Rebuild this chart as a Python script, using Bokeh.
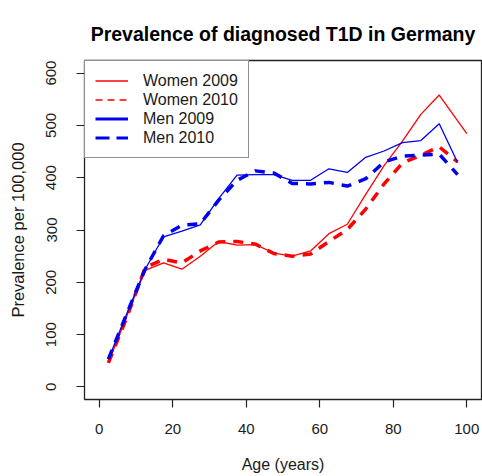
import numpy as np
from bokeh.plotting import figure
from bokeh.models import Range1d, FixedTicker, Legend, LegendItem
from bokeh.embed import file_html
from bokeh.resources import INLINE

# Age-group midpoints (years); the oldest women's 2009 group sits at 100
age = [2.5, 7.5, 12.5, 17.5, 22.5, 27.5, 32.5, 37.5, 42.5, 47.5,
       52.5, 57.5, 62.5, 67.5, 72.5, 77.5, 82.5, 87.5, 92.5, 97.5]
age_women_2009 = [2.5, 7.5, 12.5, 17.5, 22.5, 27.5, 32.5, 37.5, 42.5, 47.5,
                  52.5, 57.5, 62.5, 67.5, 72.5, 77.5, 82.5, 87.5, 92.5, 100]

# Prevalence of diagnosed type 1 diabetes per 100,000
women_2009 = [46, 135, 223, 237, 225, 250, 278, 271, 272, 256,
              250, 260, 293, 311, 368, 423, 470, 521, 558, 484]
women_2010 = [46, 133, 228, 244, 237, 260, 277, 278, 273, 255,
              250, 254, 278, 301, 340, 388, 428, 443, 459, 430]
men_2009 = [53, 140, 225, 287, 298, 310, 360, 405, 406, 406,
            395, 395, 417, 410, 439, 451, 467, 471, 503, 429]
men_2010 = [53, 140, 225, 289, 309, 312, 357, 395, 413, 409,
            389, 388, 391, 384, 398, 430, 441, 443, 445, 406]

x_ticks = [0, 20, 40, 60, 80, 100]
y_ticks = [0, 100, 200, 300, 400, 500, 600]

RED = "#ff0000"
BLUE = "#0000f0"
FONT = "Liberation Sans"

p = figure(width=482, height=476, output_backend="svg", toolbar_location=None,
           x_range=Range1d(-4, 104), y_range=Range1d(-24, 624),
           min_border_left=84, min_border_right=1, min_border_top=60,
           min_border_bottom=77)

p.title.text = "Prevalence of diagnosed T1D in Germany"
p.title.align = "center"
p.title.text_font = FONT
p.title.text_font_size = "19.5px"
p.title.text_font_style = "bold"
p.title.text_color = "black"
p.title.standoff = 31

p.grid.visible = False
p.outline_line_color = "#222222"
p.outline_line_width = 1.3
p.background_fill_color = "white"
p.border_fill_color = "white"

for ax in (p.xaxis[0], p.yaxis[0]):
    ax.axis_line_color = None
    ax.minor_tick_line_color = None
    ax.major_tick_in = 0
    ax.major_tick_out = 8
    ax.major_tick_line_color = "#222222"
    ax.major_tick_line_width = 1.2
    ax.major_label_text_font = FONT
    ax.major_label_text_font_size = "15px"
    ax.major_label_text_color = "#1a1a1a"
    ax.axis_label_text_font = FONT
    ax.axis_label_text_font_size = "16px"
    ax.axis_label_text_font_style = "normal"
    ax.axis_label_text_color = "#1a1a1a"

p.xaxis.ticker = FixedTicker(ticks=x_ticks)
p.yaxis.ticker = FixedTicker(ticks=y_ticks)
p.xaxis.axis_label = "Age (years)"
p.yaxis.axis_label = "Prevalence per 100,000"
p.yaxis.axis_label_text_font_size = "16.5px"
p.yaxis.major_label_orientation = "vertical"
p.xaxis.major_label_standoff = 16
p.yaxis.major_label_standoff = 20
p.xaxis.axis_label_standoff = 19
p.yaxis.axis_label_standoff = 17

# Data series
p.line(age_women_2009, women_2009, line_color=RED, line_width=1.3)
p.line(age, women_2010, line_color=RED, line_width=3.5, line_dash="10 8")
p.line(age, men_2009, line_color=BLUE, line_width=1.3)
p.line(age, men_2010, line_color=BLUE, line_width=3.5, line_dash="10 8")

# Legend keys with their own line styles (a single NaN point draws nothing)
nan = [np.nan]
k_w09 = p.line(nan, nan, line_color=RED, line_width=1.5)
k_w10 = p.line(nan, nan, line_color=RED, line_width=1.5, line_dash="7 5")
k_m09 = p.line(nan, nan, line_color=BLUE, line_width=3)
k_m10 = p.line(nan, nan, line_color=BLUE, line_width=3.2, line_dash="14 7")

legend = Legend(items=[
    LegendItem(label="Women 2009", renderers=[k_w09]),
    LegendItem(label="Women 2010", renderers=[k_w10]),
    LegendItem(label="Men 2009", renderers=[k_m09]),
    LegendItem(label="Men 2010", renderers=[k_m10]),
], location="top_left", margin=0, padding=10, spacing=0,
    label_height=19, glyph_height=19, glyph_width=33, label_standoff=15,
    label_text_font=FONT, label_text_font_size="16px", label_text_color="#1a1a1a",
    border_line_color="#222222", border_line_width=1.3,
    background_fill_color="white", background_fill_alpha=1)
p.add_layout(legend)

open("out.html", "w").write(file_html(p, INLINE))
